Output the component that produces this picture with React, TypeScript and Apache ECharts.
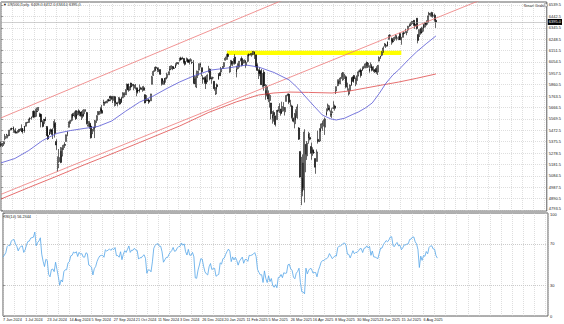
import React, { useEffect, useRef } from "react";
import * as echarts from "echarts";

// ---- tick labels ----
const xLabels = ["7 Jun 2024", "1 Jul 2024", "23 Jul 2024", "14 Aug 2024", "5 Sep 2024", "27 Sep 2024", "21 Oct 2024", "11 Nov 2024", "3 Dec 2024", "26 Dec 2024", "20 Jan 2025", "11 Feb 2025", "5 Mar 2025", "26 Mar 2025", "16 Apr 2025", "8 May 2025", "30 May 2025", "23 Jun 2025", "15 Jul 2025", "6 Aug 2025"];
const priceTicks = [6539.5, 6442.5, 6345.5, 6248.5, 6151.5, 6054.5, 5957.5, 5860.5, 5763.5, 5666.5, 5569.5, 5472.5, 5375.5, 5278.5, 5181.5, 5084.5, 4987.5, 4890.5, 4793.5];
const rsiTicks = [0, 30, 70, 100];

// closes before the first visible bar (for RSI warm-up)
const warmupCloses = [5303, 5308, 5321, 5307, 5268, 5304, 5304, 5306, 5266, 5235, 5277, 5283, 5291, 5354, 5352];

// ---- daily bars [open, close, low, high] ----
const jun2024 = [[5352,5347,5331,5376],[5341,5360,5331,5365],[5356,5375,5339,5377],[5400,5421,5386,5441],[5441,5433,5403,5442],[5423,5431,5404,5433],[5431,5473,5424,5477],[5476,5487,5471,5490],[5487,5487,5479,5495],[5499,5473,5451,5505],[5461,5464,5448,5478],[5459,5448,5447,5490],[5461,5469,5446,5472],[5460,5478,5452,5484],[5474,5482,5467,5490],[5488,5460,5458,5523]];
const jul2024 = [[5471,5475,5444,5490],[5467,5509,5452,5510],[5507,5537,5505,5539],[5537,5540,5533,5545],[5539,5567,5535,5570],[5572,5572,5562,5583],[5584,5576,5563,5590],[5591,5633,5582,5635],[5635,5584,5576,5642],[5591,5615,5584,5656],[5638,5631,5616,5666],[5644,5667,5639,5670],[5610,5589,5586,5622],[5608,5544,5497,5615],[5544,5505,5497,5557],[5529,5564,5527,5570],[5566,5555,5550,5586],[5505,5427,5424,5508],[5428,5399,5390,5492],[5433,5459,5432,5480],[5476,5463,5442,5487],[5478,5436,5398,5490],[5505,5522,5488,5551]];
const aug2024 = [[5537,5446,5410,5566],[5377,5347,5305,5396],[5152,5186,5119,5250],[5206,5240,5193,5313],[5293,5199,5192,5330],[5252,5319,5247,5327],[5310,5344,5307,5351],[5352,5344,5322,5371],[5377,5434,5377,5436],[5443,5455,5423,5463],[5498,5543,5497,5546],[5531,5554,5531,5562],[5557,5608,5547,5608],[5602,5597,5580,5620],[5603,5620,5583,5633],[5637,5571,5561,5643],[5602,5635,5590,5642],[5639,5616,5600,5651],[5602,5625,5593,5628],[5628,5592,5560,5636],[5607,5591,5574,5646],[5613,5648,5600,5651]];
const sep2024 = [[5645,5640,5630,5652],[5623,5529,5522,5629],[5507,5520,5503,5551],[5533,5503,5486,5551],[5508,5408,5402,5522],[5443,5471,5441,5484],[5490,5496,5462,5499],[5496,5554,5406,5561],[5557,5596,5535,5600],[5603,5626,5602,5636],[5615,5633,5604,5637],[5655,5634,5612,5670],[5641,5618,5615,5689],[5703,5714,5682,5733],[5709,5703,5682,5716],[5711,5718,5703,5725],[5727,5732,5703,5736],[5733,5722,5717,5741],[5762,5745,5720,5767],[5755,5738,5732,5765],[5727,5762,5704,5765]];
const oct2024 = [[5758,5709,5675,5765],[5698,5710,5680,5720],[5702,5699,5676,5715],[5737,5751,5702,5754],[5738,5696,5690,5740],[5709,5751,5706,5757],[5751,5792,5745,5796],[5778,5780,5755,5796],[5775,5815,5773,5822],[5822,5859,5818,5871],[5866,5815,5801,5870],[5816,5842,5809,5846],[5875,5841,5837,5878],[5860,5864,5847,5866],[5857,5853,5813,5863],[5832,5851,5820,5867],[5834,5797,5762,5835],[5813,5809,5785,5818],[5826,5808,5794,5862],[5833,5823,5818,5843],[5819,5832,5800,5848],[5835,5813,5811,5851],[5775,5705,5702,5779]];
const nov2024 = [[5724,5728,5720,5772],[5730,5727,5722,5735],[5730,5712,5697,5742],[5723,5782,5723,5783],[5864,5929,5864,5936],[5940,5973,5936,5983],[5977,5995,5971,6012],[6009,6001,5986,6017],[6003,5984,5967,6009],[5985,5985,5968,6008],[5989,5949,5945,5993],[5913,5870,5853,5915],[5863,5893,5863,5909],[5868,5917,5860,5918],[5917,5917,5878,5920],[5922,5948,5906,5963],[5945,5969,5945,5973],[5992,5987,5972,6020],[5996,6021,5993,6025],[6015,5998,5984,6020],[5999,6003,5995,6012],[6004,6032,6003,6044]];
const dec2024 = [[6040,6047,6024,6053],[6042,6049,6032,6052],[6069,6086,6058,6090],[6089,6075,6070,6099],[6081,6090,6077,6099],[6084,6052,6040,6088],[6058,6034,6024,6065],[6060,6084,6058,6092],[6074,6051,6050,6079],[6068,6051,6033,6079],[6063,6074,6058,6086],[6052,6050,6036,6058],[6048,5872,5867,6070],[5912,5867,5866,5935],[5842,5930,5832,5982],[5941,5975,5917,5978],[5985,6040,5982,6040],[6025,6037,6007,6049],[6006,5970,5933,6006],[5920,5907,5869,5941],[5920,5882,5868,5929]];
const jan2025 = [[5903,5869,5824,5935],[5892,5942,5882,5949],[5982,5975,5963,6021],[5993,5909,5897,6000],[5910,5918,5868,5928],[5918,5920,5905,5929],[5890,5827,5809,5890],[5782,5836,5773,5838],[5860,5843,5822,5871],[5905,5950,5905,5960],[5962,5937,5935,5964],[5969,5997,5963,6012],[5999,6005,5995,6020],[6014,6049,6006,6051],[6069,6086,6066,6100],[6076,6119,6075,6119],[6121,6101,6095,6128],[5970,6012,5962,6018],[6026,6068,6005,6070],[6058,6039,6018,6062],[6050,6071,6035,6086],[6096,6041,6031,6120]];
const feb2025 = [[5969,5994,5923,6022],[5998,6038,5990,6042],[6020,6061,6007,6062],[6072,6083,6060,6084],[6083,6026,6017,6101],[6046,6066,6042,6073],[6049,6068,6043,6076],[6026,6051,6004,6064],[6060,6115,6052,6116],[6115,6114,6101,6127],[6116,6120,6110,6130],[6121,6129,6099,6129],[6117,6144,6111,6147],[6141,6118,6080,6143],[6115,6013,6009,6115],[6026,5983,5977,6043],[5983,5955,5909,5992],[5971,5956,5933,6009],[5981,5861,5858,5994],[5856,5955,5837,5959]];
const mar2025 = [[5968,5850,5810,5987],[5812,5778,5732,5866],[5782,5843,5761,5860],[5786,5738,5712,5812],[5726,5770,5666,5783],[5705,5614,5565,5706],[5604,5572,5529,5636],[5624,5599,5546,5642],[5594,5522,5505,5597],[5563,5639,5563,5645],[5639,5642,5630,5648],[5635,5675,5620,5703],[5654,5615,5597,5654],[5633,5675,5621,5716],[5646,5663,5633,5712],[5630,5667,5598,5670],[5718,5768,5718,5775],[5775,5777,5764,5785],[5780,5712,5695,5787],[5701,5693,5674,5732],[5680,5581,5572,5690],[5575,5550,5540,5580],[5528,5612,5489,5620]];
const apr2025 = [[5597,5633,5558,5651],[5581,5671,5570,5695],[5492,5397,5390,5500],[5292,5074,5069,5292],[4953,5062,4835,5246],[5193,4982,4910,5267],[4965,5457,4857,5481],[5353,5268,5115,5353],[5255,5363,5220,5381],[5441,5406,5358,5460],[5412,5397,5386,5450],[5335,5276,5221,5367],[5306,5283,5255,5328],[5283,5284,5270,5300],[5232,5158,5102,5233],[5207,5288,5207,5309],[5395,5376,5359,5469],[5381,5485,5372,5489],[5490,5525,5462,5528],[5529,5529,5468,5553],[5508,5561,5506,5563],[5499,5569,5433,5581]];
const may2025 = [[5626,5604,5597,5659],[5645,5687,5633,5700],[5660,5650,5633,5684],[5605,5607,5587,5641],[5622,5631,5578,5660],[5660,5664,5652,5720],[5679,5660,5640,5691],[5807,5844,5781,5845],[5853,5886,5848,5906],[5885,5892,5868,5907],[5869,5917,5865,5925],[5929,5958,5910,5958],[5902,5964,5894,5969],[5945,5940,5910,5954],[5928,5845,5830,5940],[5841,5842,5809,5878],[5781,5802,5768,5829],[5810,5858,5805,5862],[5855,5922,5852,5924],[5926,5889,5886,5931],[5939,5912,5877,5944],[5903,5912,5849,5923]];
const jun2025 = [[5896,5936,5862,5938],[5939,5970,5931,5982],[5979,5971,5966,5990],[5985,5939,5921,5999],[5987,6000,5978,6016],[6004,6006,5993,6022],[6010,6038,6000,6043],[6049,6022,6003,6059],[6010,6045,6003,6050],[5996,5977,5963,6026],[6005,6033,6004,6051],[6013,5983,5974,6024],[5987,5981,5968,6018],[5980,5975,5960,5992],[5999,5968,5953,6018],[5970,6025,5943,6028],[6062,6092,6059,6101],[6104,6092,6080,6108],[6112,6141,6103,6146],[6150,6173,6132,6187],[6193,6205,6186,6216]];
const jul2025 = [[6187,6198,6174,6210],[6191,6227,6186,6228],[6247,6279,6245,6285],[6280,6284,6262,6290],[6255,6230,6201,6262],[6235,6226,6214,6242],[6241,6263,6235,6270],[6264,6280,6249,6291],[6256,6260,6237,6271],[6246,6269,6240,6272],[6296,6244,6243,6303],[6252,6264,6201,6266],[6264,6297,6264,6305],[6304,6297,6287,6315],[6304,6306,6299,6336],[6307,6309,6282,6316],[6326,6359,6313,6361],[6368,6363,6353,6382],[6371,6389,6367,6395],[6398,6390,6377,6401],[6409,6371,6361,6410],[6376,6363,6336,6394],[6427,6339,6330,6428]];
const aug2025 = [[6288,6238,6213,6288],[6272,6330,6268,6330],[6337,6299,6286,6344],[6309,6345,6301,6354],[6374,6340,6313,6380],[6351,6389,6348,6395],[6389,6374,6364,6410],[6389,6446,6372,6448],[6461,6466,6448,6481],[6453,6469,6441,6474],[6475,6450,6436,6482],[6445,6449,6431,6459],[6453,6411,6397,6467],[6409,6395,6344,6412]];

// ---- moving averages [bar, price] ----
const ma50 = [[0,5195],[10,5232],[20,5300],[30,5385],[40,5445],[50,5470],[60,5488],[70,5505],[80,5552],[90,5635],[100,5712],[110,5765],[120,5830],[129,5884],[140,5940],[152,5986],[165,6005],[177,6028],[186,6011],[197,5965],[208,5901],[214,5835],[220,5756],[226,5678],[232,5602],[238,5570],[242,5560],[248,5575],[254,5608],[258,5628],[263,5662],[268,5705],[273,5785],[278,5875],[283,5945],[287,5986],[294,6072],[300,6140],[307,6210],[314,6276]];
const ma200 = [[0,4887],[20,4985],[40,5080],[60,5178],[80,5272],[100,5368],[129,5509],[150,5625],[170,5715],[186,5773],[197,5790],[208,5798],[222,5795],[239,5790],[252,5808],[263,5832],[276,5860],[287,5883],[300,5915],[314,5952]];

// ---- drawn objects [bar, price] ----
const channelUpper = [[0,5578],[230,6712]];
const channelLower = [[0,4927],[394,6810]];
const yellowZone = { fromBar: 163, toBar: 289, top: 6150, bottom: 6114 };

const months = [jun2024, jul2024, aug2024, sep2024, oct2024, nov2024, dec2024, jan2025, feb2025, mar2025, apr2025, may2025, jun2025, jul2025, aug2025];

function computeRsi(closes: number[], period: number): number[] {
  const out: number[] = [];
  let g = 0, l = 0;
  for (let i = 1; i <= period; i++) {
    const d = closes[i] - closes[i - 1];
    if (d > 0) g += d; else l -= d;
  }
  let ag = g / period, al = l / period;
  out.push(al === 0 ? 100 : 100 - 100 / (1 + ag / al));
  for (let i = period + 1; i < closes.length; i++) {
    const d = closes[i] - closes[i - 1];
    ag = (ag * (period - 1) + (d > 0 ? d : 0)) / period;
    al = (al * (period - 1) + (d < 0 ? -d : 0)) / period;
    out.push(al === 0 ? 100 : 100 - 100 / (1 + ag / al));
  }
  return out;
}

export default function App() {
  const ref = useRef<HTMLDivElement>(null);
  useEffect(() => {
    if (!ref.current) return;
    const chart = echarts.init(ref.current, undefined, { renderer: "svg" });
    const bars = months.flat();
    const candles = bars.map((b, i) => [i, b[0], b[1], b[2], b[3]]);
    const closes = bars.map((b) => b[1]);
    const rsiAll = computeRsi([...warmupCloses, ...closes], 14);
    const rsi = rsiAll.slice(rsiAll.length - closes.length).map((v, i) => [i, v]);
    const last = bars[bars.length - 1];
    const lastRsi = rsiAll[rsiAll.length - 1];
    const font = "Liberation Sans";
    const gridLine = { show: true, lineStyle: { color: "#c8c8c8", width: 0.6, type: [1, 1] as any } };
    const XMAX = 394;
    const lowestTick = priceTicks[priceTicks.length - 1];
    const fmtX = (v: number) => (v % 16 === 0 && v / 16 < xLabels.length ? xLabels[v / 16] : "");

    chart.setOption({
      animation: false,
      backgroundColor: "#ffffff",
      textStyle: { fontFamily: font },
      grid: [
        { left: 1, right: 16, top: 2, height: 209, show: true, borderColor: "#606060", borderWidth: 1 },
        { left: 1, right: 16, top: 213, height: 103, show: true, borderColor: "#606060", borderWidth: 1 },
      ],
      xAxis: [
        { type: "value", gridIndex: 0, min: 0, max: XMAX, interval: 8, axisLabel: { show: false }, axisTick: { show: false }, axisLine: { show: false }, splitLine: gridLine },
        { type: "value", gridIndex: 1, min: 0, max: XMAX, interval: 8, axisTick: { show: false }, axisLine: { show: false }, splitLine: gridLine,
          axisLabel: { formatter: fmtX, fontSize: 3.8, color: "#222", align: "left", margin: 2, fontFamily: font, showMaxLabel: false } },
      ],
      yAxis: [
        { type: "value", gridIndex: 0, position: "right", min: 4785, max: 6565, axisLine: { show: false },
          axisTick: { show: true, customValues: priceTicks, length: 2, lineStyle: { color: "#606060", width: 0.6 } },
          axisLabel: { customValues: priceTicks, fontSize: 4, color: "#222", margin: 2, fontFamily: font,
            formatter: (v: number) => (v === lowestTick ? `{low|${v.toFixed(1)}}` : v.toFixed(1)),
            rich: { low: { fontSize: 4, color: "#222", fontFamily: font, padding: [0, 0, 3, 0] } } },
          splitLine: gridLine },
        { type: "value", gridIndex: 1, position: "right", min: 0, max: 100, axisLine: { show: false },
          axisTick: { show: true, customValues: rsiTicks, length: 2, lineStyle: { color: "#606060", width: 0.6 } },
          axisLabel: { customValues: rsiTicks, fontSize: 4, color: "#222", margin: 2, fontFamily: font,
            formatter: (v: number) => (v === 100 ? `{top|${v}}` : String(v)),
            rich: { top: { fontSize: 4, color: "#222", fontFamily: font, padding: [3, 0, 0, 0] } } },
          splitLine: { show: true, lineStyle: { color: "#a8a8a8", width: 0.6, type: [1, 1] as any } } },
      ],
      graphic: [
        { type: "text", left: 3, top: 3, style: { text: `▼ US500,Daily  ${last[0].toFixed(1)} ${last[3].toFixed(1)} ${last[2].toFixed(1)} ${last[1].toFixed(1)}`, fontSize: 3.8, fill: "#111", fontFamily: font } },
        { type: "text", right: 20, top: 4, style: { text: "Smart Grids", fontSize: 3.8, fill: "#111", fontFamily: font } },
        { type: "rect", right: 16.5, top: 3.5, shape: { width: 3, height: 3 }, style: { fill: "#fff", stroke: "#444", lineWidth: 0.5 } },
        { type: "text", left: 3, top: 215, style: { text: `RSI(14) ${lastRsi.toFixed(4)}`, fontSize: 3.8, fill: "#111", fontFamily: font } },
      ],
      series: [
        { type: "line", xAxisIndex: 0, yAxisIndex: 0, data: ma200, showSymbol: false, silent: true, lineStyle: { color: "#e04a4a", width: 0.8 } },
        { type: "line", xAxisIndex: 0, yAxisIndex: 0, data: channelLower, showSymbol: false, silent: true, lineStyle: { color: "#ee7878", width: 0.8 } },
        { type: "line", xAxisIndex: 0, yAxisIndex: 0, data: channelUpper, showSymbol: false, silent: true, lineStyle: { color: "#ee7878", width: 0.8 } },
        { type: "line", xAxisIndex: 0, yAxisIndex: 0, data: ma50, showSymbol: false, silent: true, lineStyle: { color: "#5656d4", width: 0.8 } },
        {
          type: "candlestick", xAxisIndex: 0, yAxisIndex: 0, data: candles, barWidth: 1.4, silent: true,
          itemStyle: { color: "#ffffff", color0: "#000000", borderColor: "#000000", borderColor0: "#000000", borderWidth: 0.6 },
          markArea: { silent: true, itemStyle: { color: "#ffff00", opacity: 1 },
            data: [[{ coord: [yellowZone.fromBar, yellowZone.top] }, { coord: [yellowZone.toBar, yellowZone.bottom] }]] },
          markLine: { silent: true, symbol: "none", lineStyle: { color: "#a0a0a0", width: 0.5, type: "solid" },
            label: { position: "end", distance: 1, formatter: last[1].toFixed(1), backgroundColor: "#000", color: "#fff", fontSize: 4, padding: [1, 1], fontFamily: font },
            data: [{ yAxis: last[1] }] },
        },
        { type: "line", xAxisIndex: 1, yAxisIndex: 1, data: rsi, showSymbol: false, silent: true, lineStyle: { color: "#55a6e8", width: 0.8 } },
      ],
    });
    return () => chart.dispose();
  }, []);
  return <div ref={ref} style={{ position: "absolute", left: 0, top: 0, width: 564, height: 324, background: "#fff" }} />;
}
